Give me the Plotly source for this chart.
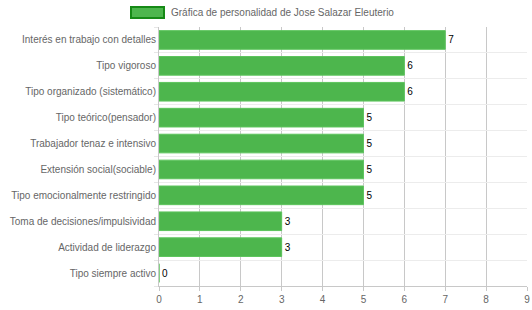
import plotly.graph_objects as go

categories = [
    "Interés en trabajo con detalles",
    "Tipo vigoroso",
    "Tipo organizado (sistemático)",
    "Tipo teórico(pensador)",
    "Trabajador tenaz e intensivo",
    "Extensión social(sociable)",
    "Tipo emocionalmente restringido",
    "Toma de decisiones/impulsividad",
    "Actividad de liderazgo",
    "Tipo siempre activo",
]
values = [7, 6, 6, 5, 5, 5, 5, 3, 3, 0]
series_name = "Gráfica de personalidad de Jose Salazar Eleuterio"
x_ticks = list(range(0, 10))

FONT = "Liberation Sans, Arial, sans-serif"
W, H = 532, 310
ML, MR, MT, MB = 159, 5, 27, 24

fig = go.Figure()
fig.add_trace(go.Bar(
    y=categories,
    x=values,
    orientation="h",
    name=series_name,
    marker=dict(color="#4db64d", line=dict(color="#5cc45c", width=1)),
    width=0.72,
    text=[str(v) for v in values],
    textposition="outside",
    textfont=dict(family=FONT, size=10, color="#000000"),
    cliponaxis=False,
    showlegend=False,
))

fig.update_layout(
    width=W, height=H,
    margin=dict(l=ML, r=MR, t=MT, b=MB, pad=0),
    paper_bgcolor="white",
    plot_bgcolor="white",
    font=dict(family=FONT, size=10, color="#666666"),
)
fig.update_xaxes(
    range=[0, 9],
    tickvals=x_ticks,
    ticktext=[str(t) for t in x_ticks],
    showgrid=True,
    gridcolor="#c8c8c8",
    gridwidth=1,
    zeroline=False,
    showline=True,
    linecolor="#c8c8c8",
    ticks="outside",
    ticklen=4,
    tickcolor="#c8c8c8",
    tickfont=dict(family=FONT, size=10, color="#666666"),
    automargin=False,
    fixedrange=True,
)
fig.update_yaxes(
    type="category",
    categoryorder="array",
    categoryarray=categories[::-1],
    autorange=False,
    range=[-0.5, len(categories) - 0.5],
    tickson="boundaries",
    showgrid=True,
    gridcolor="#ececec",
    gridwidth=1,
    showline=True,
    linecolor="#c8c8c8",
    ticks="outside",
    ticklen=4,
    tickcolor="#e6e6e6",
    tickfont=dict(family=FONT, size=10, color="#666666"),
    automargin=False,
    fixedrange=True,
)

# Chart.js-style legend: box + label
fig.add_shape(type="rect", xref="paper", yref="paper",
              x0=(131 - ML) / (W - ML - MR), x1=(164 - ML) / (W - ML - MR),
              y0=1 + (MT - 18) / (H - MT - MB), y1=1 + (MT - 7) / (H - MT - MB),
              fillcolor="#4db64d", line=dict(color="#168a16", width=2))
fig.add_annotation(xref="paper", yref="paper",
                   x=(169 - ML) / (W - ML - MR), y=1 + (MT - 12.5) / (H - MT - MB),
                   xanchor="left", yanchor="middle", showarrow=False,
                   text=series_name,
                   font=dict(family=FONT, size=10, color="#666666"))

fig.write_html("out.html")
